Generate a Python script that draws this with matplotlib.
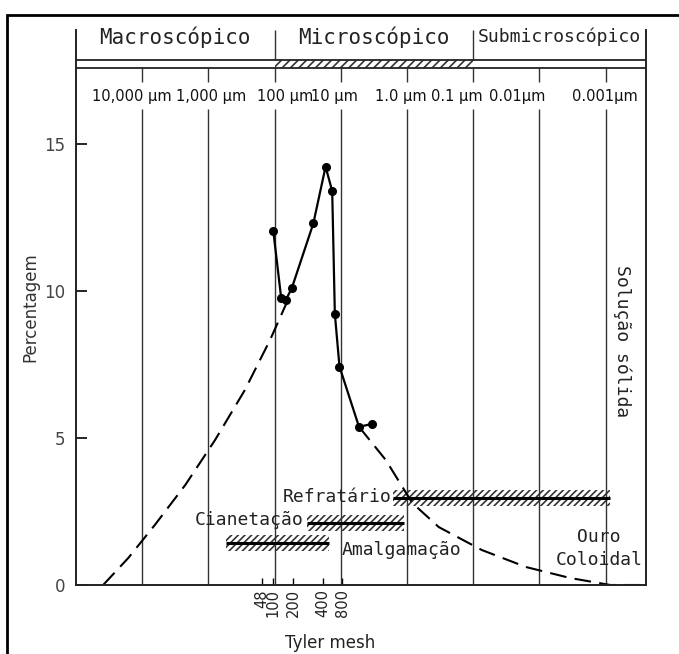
"""Gold particle size distribution vs. recovery methods (Tyler mesh / µm scale)."""

import matplotlib

matplotlib.use("Agg")
import matplotlib.pyplot as plt
from matplotlib.patches import Rectangle

# x axis is -log10(size in µm): one unit per decade
decades = [-4, -3, -2, -1, 0, 1, 2, 3]
size_labels = ["10,000 µm", "1,000 µm", "100 µm", "10 µm", "1.0 µm", "0.1 µm", "0.01µm", "0.001µm"]
regions = ["Macroscópico", "Microscópico", "Submicroscópico"]
region_edges = [-2, 1]

mesh_labels = ["48", "100", "200", "400", "800"]
mesh_pos = [-2.19, -2.03, -1.72, -1.27, -0.98]

# measured distribution (solid line with dots)
meas_x = [-2.02, -1.90, -1.83, -1.74, -1.415, -1.23, -1.13, -1.09, -1.02, -0.725, -0.53]
meas_y = [12.05, 9.75, 9.7, 10.1, 12.3, 14.23, 13.4, 9.22, 7.43, 5.38, 5.48]

# dashed envelope, left and right flanks
left_x = [-4.59, -4.21, -3.81, -3.35, -2.90, -2.45, -2.07, -1.80]
left_y = [0.0, 0.92, 2.04, 3.40, 4.93, 6.63, 8.33, 9.69]
right_x = [-0.725, -0.32, 0.08, 0.48, 1.13, 1.80, 2.46, 3.07, 3.61]
right_y = [5.38, 4.25, 2.79, 1.97, 1.19, 0.61, 0.24, 0.0, 0.0]

# recovery methods (hatched ranges)
methods = ["Amalgamação", "Cianetação", "Refratário"]
method_start = [-2.73, -1.51, -0.21]
method_end = [-1.18, -0.05, 3.07]
method_level = [1.43, 2.1, 2.96]

W, H = 679, 654
XMIN, XMAX = -5.0, 3.61
YTOP = 18.88

mono = "DejaVu Sans Mono"
plt.rcParams["hatch.linewidth"] = 1.2

fig = plt.figure(figsize=(W / 100, H / 100), dpi=100)
ax = fig.add_axes([76 / W, 69 / H, 570 / W, 555 / H])
ax.set_xlim(XMIN, XMAX)
ax.set_ylim(0, YTOP)

# outer frame of the scanned figure
fig.patches.append(
    Rectangle((7 / W, -0.05), 1.0, 1 - 15 / H + 0.05, transform=fig.transFigure,
              fill=False, edgecolor="black", lw=2.0)
)

ax.spines["top"].set_visible(False)
for side in ["left", "right", "bottom"]:
    ax.spines[side].set_linewidth(1.4)
    ax.spines[side].set_color("#222222")

# vertical decade lines, broken where the size labels sit
ax.vlines(decades, 0, 16.2, color="#333333", lw=1.0)
ax.vlines(decades, 17.1, 17.59, color="#333333", lw=1.0)
ax.vlines(region_edges, 17.86, YTOP, color="#333333", lw=1.0)

# header double line with hatched microscopic band
ax.hlines([17.59, 17.86], XMIN, XMAX, color="#222222", lw=1.3)
ax.add_patch(Rectangle((region_edges[0], 17.59), region_edges[1] - region_edges[0], 0.27,
                       hatch="////", fill=False, lw=0, edgecolor="#333333"))

bounds = [XMIN] + region_edges + [XMAX]
for i, name in enumerate(regions):
    mid = (bounds[i] + bounds[i + 1]) / 2
    ax.text(mid, 18.64, name, family=mono, fontsize=15 if i < 2 else 13,
            ha="center", va="center", color="#222222")

label_x = [-4.16, -2.96, -1.84, -1.1, -0.09, 0.75, 1.66, 2.99]
for x, lab in zip(label_x, size_labels):
    ax.text(x, 16.62, lab, fontsize=10.5, ha="center", va="center", color="#111111")

# curves
ax.plot(left_x, left_y, color="black", lw=1.5, ls=(0, (8, 4)))
ax.plot(right_x, right_y, color="black", lw=1.5, ls=(0, (8, 4)))
ax.plot(meas_x, meas_y, color="black", lw=1.6, marker="o", ms=5.5)

# hatched method ranges
for start, end, level in zip(method_start, method_end, method_level):
    ax.add_patch(Rectangle((start, level - 0.28), end - start, 0.56, hatch="/////",
                           fill=False, lw=0, edgecolor="#333333"))
    ax.hlines(level, start, end, color="black", lw=2.2)

ax.text(method_end[0] + 0.2, method_level[0] - 0.25, methods[0], family=mono, fontsize=13,
        ha="left", va="center", color="#222222")
ax.text(method_start[1] - 0.06, method_level[1] + 0.1, methods[1], family=mono, fontsize=13,
        ha="right", va="center", color="#222222")
ax.text(method_start[2] - 0.02, method_level[2] + 0.05, methods[2], family=mono, fontsize=13,
        ha="right", va="center", color="#222222")
ax.text(2.9, 1.63, "Ouro", family=mono, fontsize=13, ha="center", va="center", color="#222222")
ax.text(2.9, 0.85, "Coloidal", family=mono, fontsize=13, ha="center", va="center", color="#222222")
ax.text(3.25, 8.3, "Solução sólida", family=mono, fontsize=13, rotation=270,
        ha="center", va="center", color="#222222")

# axes ticks
ax.set_yticks([0, 5, 10, 15])
ax.tick_params(axis="y", direction="in", length=8, width=1.2, pad=8, labelsize=12,
               labelcolor="#444444")
ax.set_xticks(mesh_pos)
ax.set_xticklabels(mesh_labels, rotation=90)
ax.tick_params(axis="x", direction="in", length=5, width=1.0, pad=3, labelsize=10.5,
               labelcolor="#222222")
ax.set_ylabel("Percentagem", fontsize=12, color="#333333", labelpad=3)
ax.set_xlabel("Tyler mesh", fontsize=12, color="#222222")
ax.xaxis.set_label_coords((330 - 76) / 570, -49 / 555)

fig.savefig("out.png", dpi=100, facecolor="white")
